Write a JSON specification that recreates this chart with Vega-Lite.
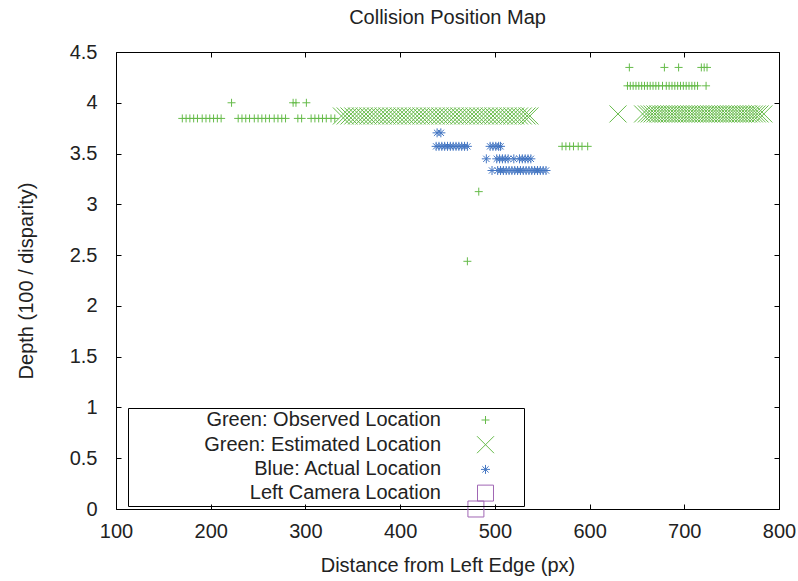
{
  "$schema": "https://vega.github.io/schema/vega-lite/v6.json",
  "width": 663,
  "height": 457,
  "autosize": {"type": "none"},
  "padding": {"left": 116, "top": 52, "right": 19, "bottom": 72},
  "background": "white",
  "title": {"text": "Collision Position Map", "fontSize": 20, "font": "Liberation Sans", "fontWeight": "normal", "color": "#222", "baseline": "bottom", "offset": -6, "anchor": "middle"},
  "config": {
    "view": {"stroke": "black", "strokeWidth": 1},
    "axis": {"domain": false, "grid": false, "tickColor": "black", "tickSize": -5, "labelFlush": false, "labelFont": "Liberation Sans", "labelFontSize": 20, "labelColor": "#222", "titleFont": "Liberation Sans", "titleFontSize": 20, "titleFontWeight": "normal", "titleColor": "#222"},
    "legend": {"labelFont": "Liberation Sans", "labelFontSize": 20, "labelColor": "#222"}
  },
  "data": {"values": [
    {"x": 170, "y": 3.846, "s": "Green: Observed Location"},
    {"x": 174, "y": 3.846, "s": "Green: Observed Location"},
    {"x": 178, "y": 3.846, "s": "Green: Observed Location"},
    {"x": 182, "y": 3.846, "s": "Green: Observed Location"},
    {"x": 186, "y": 3.846, "s": "Green: Observed Location"},
    {"x": 191, "y": 3.846, "s": "Green: Observed Location"},
    {"x": 195, "y": 3.846, "s": "Green: Observed Location"},
    {"x": 199, "y": 3.846, "s": "Green: Observed Location"},
    {"x": 203, "y": 3.846, "s": "Green: Observed Location"},
    {"x": 207, "y": 3.846, "s": "Green: Observed Location"},
    {"x": 211, "y": 3.846, "s": "Green: Observed Location"},
    {"x": 229, "y": 3.846, "s": "Green: Observed Location"},
    {"x": 233, "y": 3.846, "s": "Green: Observed Location"},
    {"x": 237, "y": 3.846, "s": "Green: Observed Location"},
    {"x": 241, "y": 3.846, "s": "Green: Observed Location"},
    {"x": 246, "y": 3.846, "s": "Green: Observed Location"},
    {"x": 250, "y": 3.846, "s": "Green: Observed Location"},
    {"x": 254, "y": 3.846, "s": "Green: Observed Location"},
    {"x": 258, "y": 3.846, "s": "Green: Observed Location"},
    {"x": 262, "y": 3.846, "s": "Green: Observed Location"},
    {"x": 267, "y": 3.846, "s": "Green: Observed Location"},
    {"x": 271, "y": 3.846, "s": "Green: Observed Location"},
    {"x": 275, "y": 3.846, "s": "Green: Observed Location"},
    {"x": 279, "y": 3.846, "s": "Green: Observed Location"},
    {"x": 292, "y": 3.846, "s": "Green: Observed Location"},
    {"x": 296, "y": 3.846, "s": "Green: Observed Location"},
    {"x": 306, "y": 3.846, "s": "Green: Observed Location"},
    {"x": 310, "y": 3.846, "s": "Green: Observed Location"},
    {"x": 314, "y": 3.846, "s": "Green: Observed Location"},
    {"x": 318, "y": 3.846, "s": "Green: Observed Location"},
    {"x": 322, "y": 3.846, "s": "Green: Observed Location"},
    {"x": 327, "y": 3.846, "s": "Green: Observed Location"},
    {"x": 331, "y": 3.846, "s": "Green: Observed Location"},
    {"x": 222, "y": 4.0, "s": "Green: Observed Location"},
    {"x": 287, "y": 4.0, "s": "Green: Observed Location"},
    {"x": 290, "y": 4.0, "s": "Green: Observed Location"},
    {"x": 301, "y": 4.0, "s": "Green: Observed Location"},
    {"x": 483, "y": 3.125, "s": "Green: Observed Location"},
    {"x": 471, "y": 2.439, "s": "Green: Observed Location"},
    {"x": 571, "y": 3.571, "s": "Green: Observed Location"},
    {"x": 575, "y": 3.571, "s": "Green: Observed Location"},
    {"x": 579, "y": 3.571, "s": "Green: Observed Location"},
    {"x": 583, "y": 3.571, "s": "Green: Observed Location"},
    {"x": 588, "y": 3.571, "s": "Green: Observed Location"},
    {"x": 592, "y": 3.571, "s": "Green: Observed Location"},
    {"x": 598, "y": 3.571, "s": "Green: Observed Location"},
    {"x": 640, "y": 4.167, "s": "Green: Observed Location"},
    {"x": 643, "y": 4.167, "s": "Green: Observed Location"},
    {"x": 646, "y": 4.167, "s": "Green: Observed Location"},
    {"x": 649, "y": 4.167, "s": "Green: Observed Location"},
    {"x": 652, "y": 4.167, "s": "Green: Observed Location"},
    {"x": 655, "y": 4.167, "s": "Green: Observed Location"},
    {"x": 658, "y": 4.167, "s": "Green: Observed Location"},
    {"x": 661, "y": 4.167, "s": "Green: Observed Location"},
    {"x": 664, "y": 4.167, "s": "Green: Observed Location"},
    {"x": 667, "y": 4.167, "s": "Green: Observed Location"},
    {"x": 670, "y": 4.167, "s": "Green: Observed Location"},
    {"x": 673, "y": 4.167, "s": "Green: Observed Location"},
    {"x": 677, "y": 4.167, "s": "Green: Observed Location"},
    {"x": 681, "y": 4.167, "s": "Green: Observed Location"},
    {"x": 684, "y": 4.167, "s": "Green: Observed Location"},
    {"x": 687, "y": 4.167, "s": "Green: Observed Location"},
    {"x": 690, "y": 4.167, "s": "Green: Observed Location"},
    {"x": 693, "y": 4.167, "s": "Green: Observed Location"},
    {"x": 696, "y": 4.167, "s": "Green: Observed Location"},
    {"x": 699, "y": 4.167, "s": "Green: Observed Location"},
    {"x": 702, "y": 4.167, "s": "Green: Observed Location"},
    {"x": 705, "y": 4.167, "s": "Green: Observed Location"},
    {"x": 708, "y": 4.167, "s": "Green: Observed Location"},
    {"x": 711, "y": 4.167, "s": "Green: Observed Location"},
    {"x": 714, "y": 4.167, "s": "Green: Observed Location"},
    {"x": 723, "y": 4.167, "s": "Green: Observed Location"},
    {"x": 642, "y": 4.348, "s": "Green: Observed Location"},
    {"x": 679, "y": 4.348, "s": "Green: Observed Location"},
    {"x": 694, "y": 4.348, "s": "Green: Observed Location"},
    {"x": 718, "y": 4.348, "s": "Green: Observed Location"},
    {"x": 721, "y": 4.348, "s": "Green: Observed Location"},
    {"x": 724, "y": 4.348, "s": "Green: Observed Location"},
    {"x": 338, "y": 3.87, "s": "Green: Estimated Location"},
    {"x": 342, "y": 3.87, "s": "Green: Estimated Location"},
    {"x": 346, "y": 3.87, "s": "Green: Estimated Location"},
    {"x": 350, "y": 3.87, "s": "Green: Estimated Location"},
    {"x": 354, "y": 3.87, "s": "Green: Estimated Location"},
    {"x": 358, "y": 3.87, "s": "Green: Estimated Location"},
    {"x": 362, "y": 3.87, "s": "Green: Estimated Location"},
    {"x": 366, "y": 3.87, "s": "Green: Estimated Location"},
    {"x": 370, "y": 3.87, "s": "Green: Estimated Location"},
    {"x": 374, "y": 3.87, "s": "Green: Estimated Location"},
    {"x": 378, "y": 3.87, "s": "Green: Estimated Location"},
    {"x": 382, "y": 3.87, "s": "Green: Estimated Location"},
    {"x": 386, "y": 3.87, "s": "Green: Estimated Location"},
    {"x": 390, "y": 3.87, "s": "Green: Estimated Location"},
    {"x": 394, "y": 3.87, "s": "Green: Estimated Location"},
    {"x": 398, "y": 3.87, "s": "Green: Estimated Location"},
    {"x": 402, "y": 3.87, "s": "Green: Estimated Location"},
    {"x": 406, "y": 3.87, "s": "Green: Estimated Location"},
    {"x": 410, "y": 3.87, "s": "Green: Estimated Location"},
    {"x": 414, "y": 3.87, "s": "Green: Estimated Location"},
    {"x": 418, "y": 3.87, "s": "Green: Estimated Location"},
    {"x": 422, "y": 3.87, "s": "Green: Estimated Location"},
    {"x": 426, "y": 3.87, "s": "Green: Estimated Location"},
    {"x": 430, "y": 3.87, "s": "Green: Estimated Location"},
    {"x": 434, "y": 3.87, "s": "Green: Estimated Location"},
    {"x": 438, "y": 3.87, "s": "Green: Estimated Location"},
    {"x": 442, "y": 3.87, "s": "Green: Estimated Location"},
    {"x": 446, "y": 3.87, "s": "Green: Estimated Location"},
    {"x": 450, "y": 3.87, "s": "Green: Estimated Location"},
    {"x": 454, "y": 3.87, "s": "Green: Estimated Location"},
    {"x": 458, "y": 3.87, "s": "Green: Estimated Location"},
    {"x": 462, "y": 3.87, "s": "Green: Estimated Location"},
    {"x": 466, "y": 3.87, "s": "Green: Estimated Location"},
    {"x": 470, "y": 3.87, "s": "Green: Estimated Location"},
    {"x": 474, "y": 3.87, "s": "Green: Estimated Location"},
    {"x": 478, "y": 3.87, "s": "Green: Estimated Location"},
    {"x": 482, "y": 3.87, "s": "Green: Estimated Location"},
    {"x": 486, "y": 3.87, "s": "Green: Estimated Location"},
    {"x": 490, "y": 3.87, "s": "Green: Estimated Location"},
    {"x": 494, "y": 3.87, "s": "Green: Estimated Location"},
    {"x": 498, "y": 3.87, "s": "Green: Estimated Location"},
    {"x": 502, "y": 3.87, "s": "Green: Estimated Location"},
    {"x": 506, "y": 3.87, "s": "Green: Estimated Location"},
    {"x": 510, "y": 3.87, "s": "Green: Estimated Location"},
    {"x": 514, "y": 3.87, "s": "Green: Estimated Location"},
    {"x": 518, "y": 3.87, "s": "Green: Estimated Location"},
    {"x": 522, "y": 3.87, "s": "Green: Estimated Location"},
    {"x": 526, "y": 3.87, "s": "Green: Estimated Location"},
    {"x": 530, "y": 3.87, "s": "Green: Estimated Location"},
    {"x": 534, "y": 3.87, "s": "Green: Estimated Location"},
    {"x": 537, "y": 3.87, "s": "Green: Estimated Location"},
    {"x": 630, "y": 3.89, "s": "Green: Estimated Location"},
    {"x": 656, "y": 3.89, "s": "Green: Estimated Location"},
    {"x": 660, "y": 3.89, "s": "Green: Estimated Location"},
    {"x": 663, "y": 3.89, "s": "Green: Estimated Location"},
    {"x": 666, "y": 3.89, "s": "Green: Estimated Location"},
    {"x": 669, "y": 3.89, "s": "Green: Estimated Location"},
    {"x": 672, "y": 3.89, "s": "Green: Estimated Location"},
    {"x": 675, "y": 3.89, "s": "Green: Estimated Location"},
    {"x": 678, "y": 3.89, "s": "Green: Estimated Location"},
    {"x": 681, "y": 3.89, "s": "Green: Estimated Location"},
    {"x": 684, "y": 3.89, "s": "Green: Estimated Location"},
    {"x": 687, "y": 3.89, "s": "Green: Estimated Location"},
    {"x": 690, "y": 3.89, "s": "Green: Estimated Location"},
    {"x": 693, "y": 3.89, "s": "Green: Estimated Location"},
    {"x": 696, "y": 3.89, "s": "Green: Estimated Location"},
    {"x": 699, "y": 3.89, "s": "Green: Estimated Location"},
    {"x": 702, "y": 3.89, "s": "Green: Estimated Location"},
    {"x": 705, "y": 3.89, "s": "Green: Estimated Location"},
    {"x": 708, "y": 3.89, "s": "Green: Estimated Location"},
    {"x": 711, "y": 3.89, "s": "Green: Estimated Location"},
    {"x": 714, "y": 3.89, "s": "Green: Estimated Location"},
    {"x": 717, "y": 3.89, "s": "Green: Estimated Location"},
    {"x": 720, "y": 3.89, "s": "Green: Estimated Location"},
    {"x": 723, "y": 3.89, "s": "Green: Estimated Location"},
    {"x": 726, "y": 3.89, "s": "Green: Estimated Location"},
    {"x": 729, "y": 3.89, "s": "Green: Estimated Location"},
    {"x": 732, "y": 3.89, "s": "Green: Estimated Location"},
    {"x": 735, "y": 3.89, "s": "Green: Estimated Location"},
    {"x": 738, "y": 3.89, "s": "Green: Estimated Location"},
    {"x": 741, "y": 3.89, "s": "Green: Estimated Location"},
    {"x": 744, "y": 3.89, "s": "Green: Estimated Location"},
    {"x": 747, "y": 3.89, "s": "Green: Estimated Location"},
    {"x": 750, "y": 3.89, "s": "Green: Estimated Location"},
    {"x": 753, "y": 3.89, "s": "Green: Estimated Location"},
    {"x": 756, "y": 3.89, "s": "Green: Estimated Location"},
    {"x": 759, "y": 3.89, "s": "Green: Estimated Location"},
    {"x": 762, "y": 3.89, "s": "Green: Estimated Location"},
    {"x": 765, "y": 3.89, "s": "Green: Estimated Location"},
    {"x": 768, "y": 3.89, "s": "Green: Estimated Location"},
    {"x": 771, "y": 3.89, "s": "Green: Estimated Location"},
    {"x": 774, "y": 3.89, "s": "Green: Estimated Location"},
    {"x": 777, "y": 3.89, "s": "Green: Estimated Location"},
    {"x": 780, "y": 3.89, "s": "Green: Estimated Location"},
    {"x": 784, "y": 3.89, "s": "Green: Estimated Location"},
    {"x": 439, "y": 3.704, "s": "Blue: Actual Location"},
    {"x": 443, "y": 3.704, "s": "Blue: Actual Location"},
    {"x": 438, "y": 3.571, "s": "Blue: Actual Location"},
    {"x": 441, "y": 3.571, "s": "Blue: Actual Location"},
    {"x": 444, "y": 3.571, "s": "Blue: Actual Location"},
    {"x": 447, "y": 3.571, "s": "Blue: Actual Location"},
    {"x": 450, "y": 3.571, "s": "Blue: Actual Location"},
    {"x": 453, "y": 3.571, "s": "Blue: Actual Location"},
    {"x": 456, "y": 3.571, "s": "Blue: Actual Location"},
    {"x": 459, "y": 3.571, "s": "Blue: Actual Location"},
    {"x": 462, "y": 3.571, "s": "Blue: Actual Location"},
    {"x": 465, "y": 3.571, "s": "Blue: Actual Location"},
    {"x": 468, "y": 3.571, "s": "Blue: Actual Location"},
    {"x": 471, "y": 3.571, "s": "Blue: Actual Location"},
    {"x": 495, "y": 3.571, "s": "Blue: Actual Location"},
    {"x": 498, "y": 3.571, "s": "Blue: Actual Location"},
    {"x": 501, "y": 3.571, "s": "Blue: Actual Location"},
    {"x": 504, "y": 3.571, "s": "Blue: Actual Location"},
    {"x": 506, "y": 3.571, "s": "Blue: Actual Location"},
    {"x": 491, "y": 3.448, "s": "Blue: Actual Location"},
    {"x": 502, "y": 3.448, "s": "Blue: Actual Location"},
    {"x": 505, "y": 3.448, "s": "Blue: Actual Location"},
    {"x": 508, "y": 3.448, "s": "Blue: Actual Location"},
    {"x": 511, "y": 3.448, "s": "Blue: Actual Location"},
    {"x": 514, "y": 3.448, "s": "Blue: Actual Location"},
    {"x": 520, "y": 3.448, "s": "Blue: Actual Location"},
    {"x": 526, "y": 3.448, "s": "Blue: Actual Location"},
    {"x": 529, "y": 3.448, "s": "Blue: Actual Location"},
    {"x": 532, "y": 3.448, "s": "Blue: Actual Location"},
    {"x": 535, "y": 3.448, "s": "Blue: Actual Location"},
    {"x": 538, "y": 3.448, "s": "Blue: Actual Location"},
    {"x": 497, "y": 3.333, "s": "Blue: Actual Location"},
    {"x": 503, "y": 3.333, "s": "Blue: Actual Location"},
    {"x": 506, "y": 3.333, "s": "Blue: Actual Location"},
    {"x": 509, "y": 3.333, "s": "Blue: Actual Location"},
    {"x": 512, "y": 3.333, "s": "Blue: Actual Location"},
    {"x": 515, "y": 3.333, "s": "Blue: Actual Location"},
    {"x": 518, "y": 3.333, "s": "Blue: Actual Location"},
    {"x": 521, "y": 3.333, "s": "Blue: Actual Location"},
    {"x": 524, "y": 3.333, "s": "Blue: Actual Location"},
    {"x": 527, "y": 3.333, "s": "Blue: Actual Location"},
    {"x": 530, "y": 3.333, "s": "Blue: Actual Location"},
    {"x": 533, "y": 3.333, "s": "Blue: Actual Location"},
    {"x": 536, "y": 3.333, "s": "Blue: Actual Location"},
    {"x": 539, "y": 3.333, "s": "Blue: Actual Location"},
    {"x": 542, "y": 3.333, "s": "Blue: Actual Location"},
    {"x": 545, "y": 3.333, "s": "Blue: Actual Location"},
    {"x": 548, "y": 3.333, "s": "Blue: Actual Location"},
    {"x": 551, "y": 3.333, "s": "Blue: Actual Location"},
    {"x": 554, "y": 3.333, "s": "Blue: Actual Location"},
    {"x": 480, "y": 0, "s": "Left Camera Location"}
  ]},
  "layer": [
    {
      "mark": {"type": "point", "filled": false, "strokeWidth": 1, "opacity": 1, "size": 289},
      "encoding": {
        "x": {"field": "x", "type": "quantitative", "scale": {"domain": [100, 800], "nice": false, "zero": false},
              "axis": {"orient": "bottom", "values": [100, 200, 300, 400, 500, 600, 700, 800], "labelPadding": 17, "title": "Distance from Left Edge (px)", "titlePadding": 14}},
        "y": {"field": "y", "type": "quantitative", "scale": {"domain": [0, 4.5], "nice": false, "zero": false},
              "axis": {"orient": "left", "values": [0, 0.5, 1, 1.5, 2, 2.5, 3, 3.5, 4, 4.5], "format": "~g", "labelPadding": 24, "title": "Depth (100 / disparity)", "titlePadding": 33}},
        "color": {"field": "s", "type": "nominal",
                  "scale": {"domain": ["Green: Observed Location", "Green: Estimated Location", "Blue: Actual Location", "Left Camera Location"], "range": ["#66bb4a", "#66bb4a", "#4577c3", "#a066b4"]},
                  "legend": {"orient": "none", "legendX": 12, "legendY": 356, "title": "\u00a0", "titleOrient": "right", "titlePadding": 26, "titleFontSize": 20, "strokeColor": "black", "padding": 2, "labelAlign": "right", "labelOffset": -54.5, "symbolOffset": 345.5, "rowPadding": 3.7, "labelLimit": 400, "symbolStrokeWidth": 1, "symbolSize": 289}},
        "shape": {"field": "s", "type": "nominal",
                  "scale": {"domain": ["Green: Observed Location", "Green: Estimated Location", "Blue: Actual Location", "Left Camera Location"], "range": ["M-0.47,0L0.47,0M0,-0.47L0,0.47", "M-1,-1L1,1M-1,1L1,-1", "M-0.53,0L0.53,0M0,-0.53L0,0.53M-0.37,-0.37L0.37,0.37M-0.37,0.37L0.37,-0.37", "M-0.94,-0.94L0.94,-0.94L0.94,0.94L-0.94,0.94Z"]}}
      }
    },
    {
      "mark": {"type": "point", "opacity": 0},
      "encoding": {
        "x": {"field": "x", "type": "quantitative", "axis": {"orient": "top", "values": [100, 200, 300, 400, 500, 600, 700, 800], "labels": false, "title": null}},
        "y": {"field": "y", "type": "quantitative", "axis": {"orient": "right", "values": [0, 0.5, 1, 1.5, 2, 2.5, 3, 3.5, 4, 4.5], "labels": false, "title": null}}
      }
    }
  ],
  "resolve": {"axis": {"x": "independent", "y": "independent"}}
}
